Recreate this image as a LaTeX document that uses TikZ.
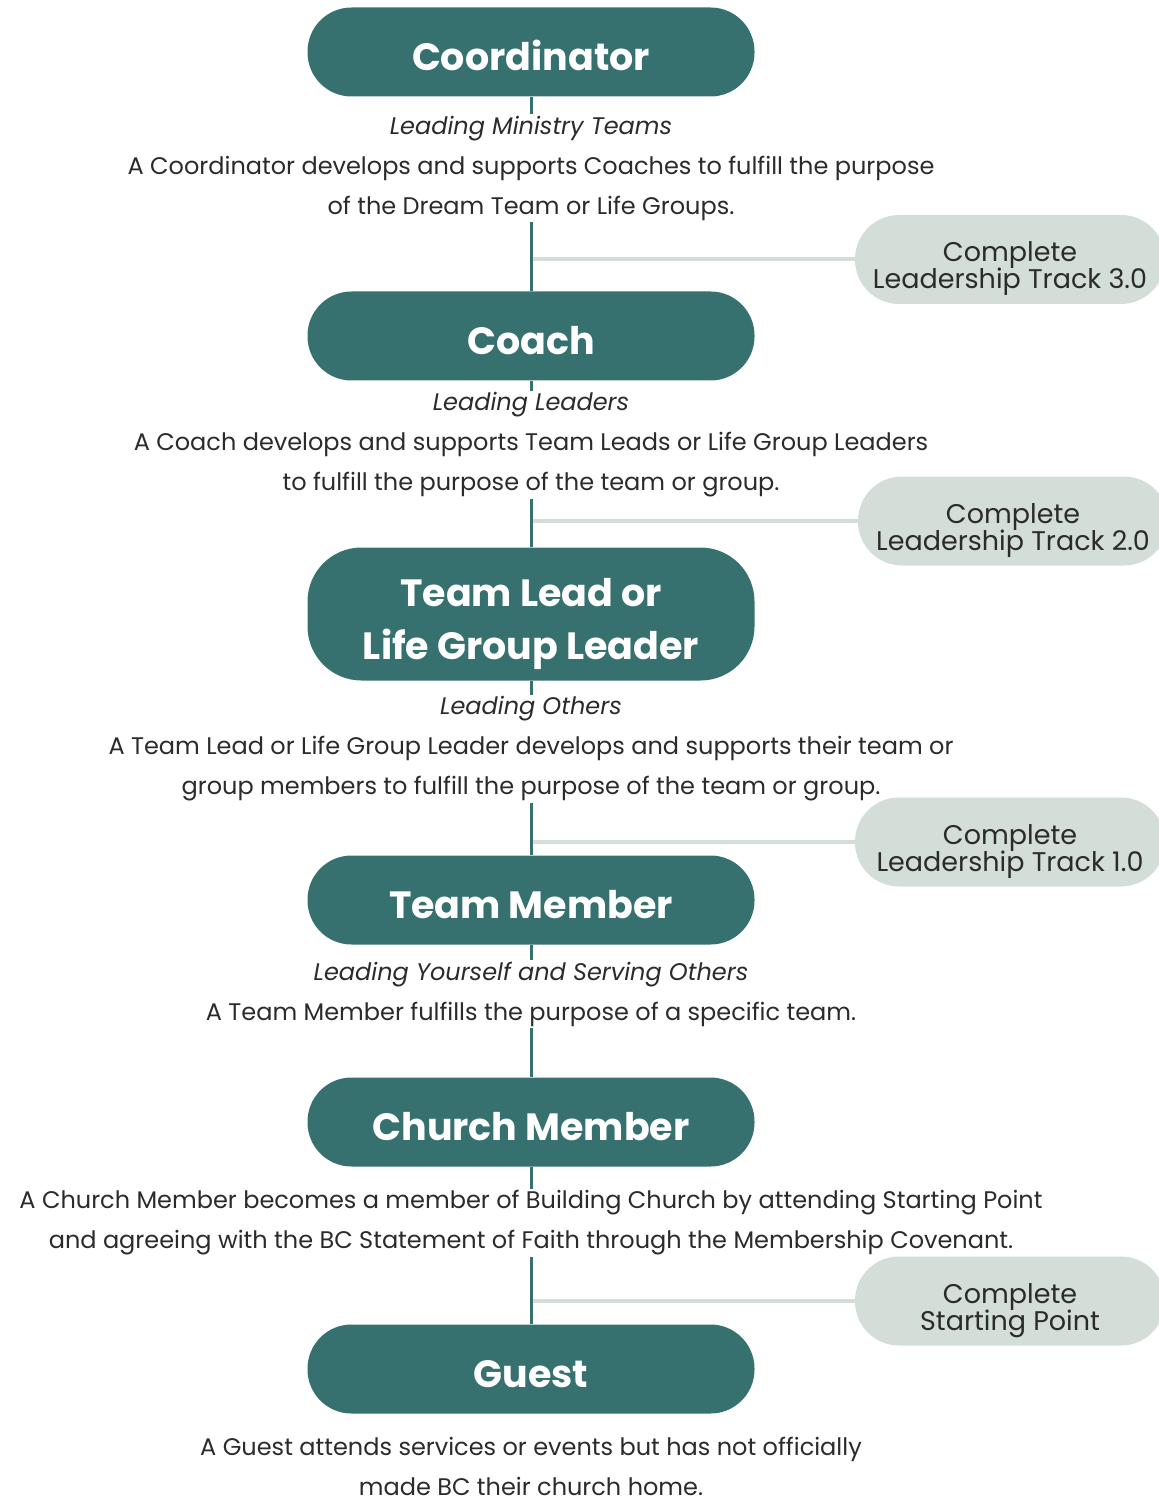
\documentclass[tikz,border=0pt]{standalone}
\usepackage{fontspec}
\setmainfont{Poppins}
\usetikzlibrary{backgrounds}
\definecolor{bcteal}{HTML}{367170}
\definecolor{bcsage}{HTML}{D3DED8}
\definecolor{bcink}{HTML}{2B2B2B}

\tikzset{
	role/.style={rectangle, rounded corners=22pt, fill=bcteal, text=white,
		minimum width=223.5pt, minimum height=44.5pt, align=center, text height=19pt,
		font=\bfseries\fontsize{19}{26.5}\selectfont},
	track/.style={rectangle, rounded corners=22pt, fill=bcsage, text=bcink,
		minimum width=155pt, minimum height=44.5pt, align=center, inner sep=0pt,
		text height=33pt, font={\fontsize{13.5}{13.5}\selectfont\lineskiplimit-20pt\relax}},
	desc/.style={align=center, fill=white, text=bcink, inner xsep=2pt, inner ysep=1pt,
		font=\fontsize{12}{20}\selectfont},
	spine/.style={draw=bcteal, line width=1.5pt},
	branch/.style={draw=bcsage, line width=2pt}
}

\begin{document}
\begin{tikzpicture}[x=0.5pt, y=-0.5pt]
	\useasboundingbox (0,0) rectangle (1159,1497);

	% roles
	\node[role] (coord) at (531,52) {Coordinator};
	\node[role] (coach) at (531,336) {Coach};
	\node[role, minimum height=66.5pt, rounded corners=27pt, text height=51pt] (lead) at (531,614) {Team Lead or\\Life Group Leader};
	\node[role] (member) at (531,900) {Team Member};
	\node[role] (church) at (531,1122) {Church Member};
	\node[role] (guest) at (531,1369) {Guest};

	% descriptions
	\node[desc] (coordtxt) at (531,168) {\textit{Leading Ministry Teams}\\
		A Coordinator develops and supports Coaches to fulfill the purpose\\
		of the Dream Team or Life Groups.};
	\node[desc] (coachtxt) at (531,445) {\textit{Leading Leaders}\\
		A Coach develops and supports Team Leads or Life Group Leaders\\
		to fulfill the purpose of the team or group.};
	\node[desc] (leadtxt) at (531,749) {\textit{Leading Others}\\
		A Team Lead or Life Group Leader develops and supports their team or\\
		group members to fulfill the purpose of the team or group.};
	\node[desc] (membertxt) at (531,994) {\textit{Leading Yourself and Serving Others}\\
		A Team Member fulfills the purpose of a specific team.};
	\node[desc] (churchtxt) at (531,1223) {A Church Member becomes a member of Building Church by attending Starting Point\\
		and agreeing with the BC Statement of Faith through the Membership Covenant.};
	\node[desc, fill=none, inner ysep=0pt] (guesttxt) at (531,1466) {A Guest attends services or events but has not officially\\
		made BC their church home.};

	% steps
	\node[track] (track3) at (1010,259.5) {Complete\\Leadership Track 3.0};
	\node[track] (track2) at (1013,521) {Complete\\Leadership Track 2.0};
	\node[track] (track1) at (1010,842) {Complete\\Leadership Track 1.0};
	\node[track] (start) at (1010,1301) {Complete\\Starting Point};

	\begin{pgfonlayer}{background}
		\draw[branch] (track3.west) -- (track3.west -| coord.south);
		\draw[branch] (track2.west) -- (track2.west -| coord.south);
		\draw[branch] (track1.west) -- (track1.west -| coord.south);
		\draw[branch] (start.west) -- (start.west -| coord.south);

		\draw[spine] (coord) -- (coach);
		\draw[spine] (coach) -- (lead);
		\draw[spine] (lead) -- (member);
		\draw[spine] (member) -- (church);
		\draw[spine] (church) -- (guest);
	\end{pgfonlayer}
\end{tikzpicture}
\end{document}
